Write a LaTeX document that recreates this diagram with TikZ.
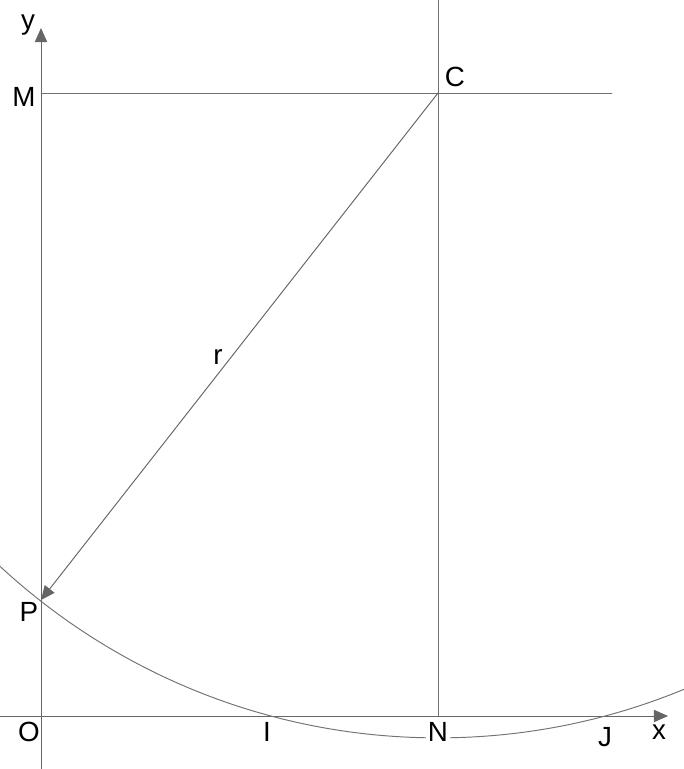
\documentclass[tikz,border=0pt]{standalone}
\usepackage{fontspec}
\setmainfont{Liberation Sans}
\usetikzlibrary{arrows.meta}
\definecolor{ggggrr}{rgb}{0.45,0.45,0.45}
\definecolor{arrowgr}{rgb}{0.4,0.4,0.4}

\begin{document}
\begin{tikzpicture}[line cap=round,line join=round,>={Triangle[length=8pt,width=7pt]},x=0.02cm,y=-0.02cm,
  lbl/.style={font=\fontsize{15.8}{19}\selectfont,inner sep=1pt},
  axisline/.style={color=ggggrr,line width=0.55pt}]
\useasboundingbox (0,0) rectangle (684,769);
\clip (0,0) rectangle (684,769);
\coordinate (O) at (41,716);
\coordinate (C) at (438,93);
\coordinate (P) at (41,600);
\coordinate (M) at (41,93);
\coordinate (N) at (438,716);
\coordinate (ytop) at (41,28);
\coordinate (ybot) at (41,769);
\coordinate (xleft) at (0,716);
\coordinate (xright) at (668,716);
\coordinate (Cend) at (612,93);
\coordinate (Ctop) at (438,0);
% axes
\draw [axisline,->,arrowgr] (ybot)-- (ytop);
\draw [axisline,->,arrowgr] (xleft)-- (xright);
\draw [axisline] (M)-- (Cend);
\draw [axisline] (Ctop)-- (N);
% circle through P
\draw [axisline] (C) circle (12.9cm);
\draw [axisline,->,arrowgr] (C)-- (P);
% labels
\node[lbl] (ylab) at (28,25) {y};
\node[lbl] (xlab) at (659,732) {x};
\node[lbl] (Mlab) at (24,97) {M};
\node[lbl] (Clab) at (455,77) {C};
\node[lbl] (rlab) at (218,357) {r};
\node[lbl] (Plab) at (29,612) {P};
\node[lbl] (Olab) at (29,732) {O};
\node[lbl] (Ilab) at (267,732) {I};
\node[lbl,fill=white] (Nlab) at (438,732) {N};
\node[lbl] (Jlab) at (605,737) {J};
\end{tikzpicture}
\end{document}
